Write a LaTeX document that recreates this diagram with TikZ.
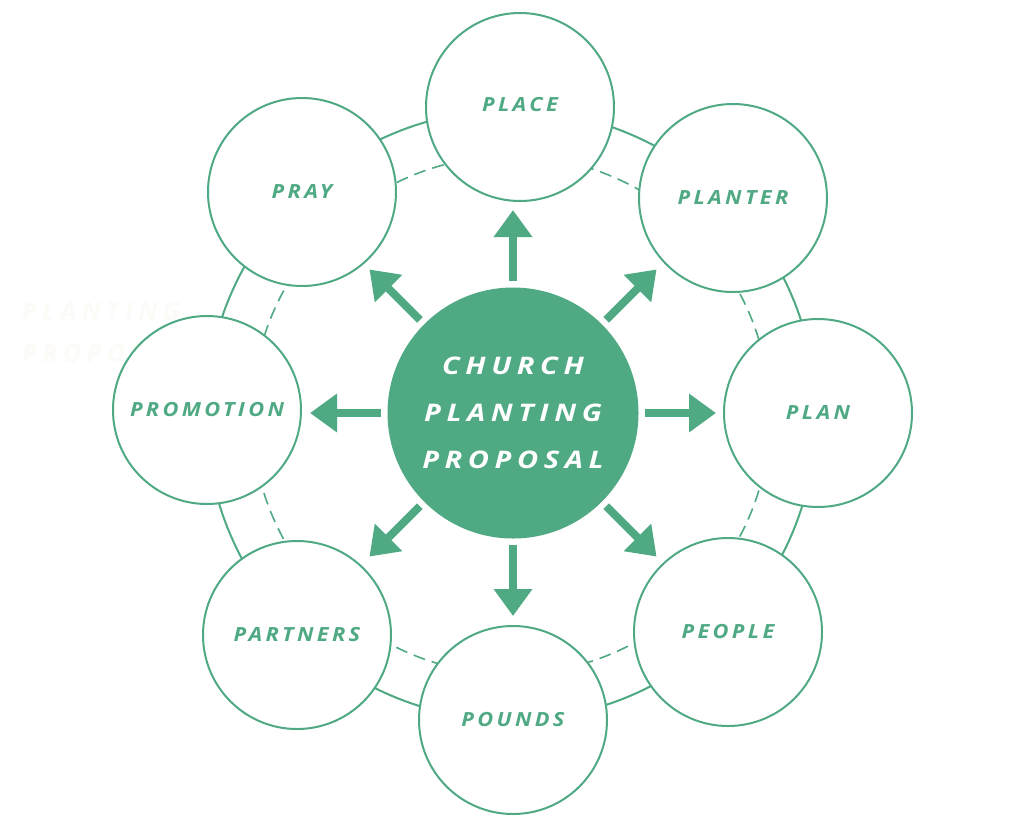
\documentclass[tikz,border=0pt]{standalone}
\usepackage{fontspec}
\newfontfamily\lblfont{Open Sans}[LetterSpace=17,FakeStretch=1.12]
\newfontfamily\ctrfont{Open Sans}[LetterSpace=23,FakeStretch=1.2]
\newfontfamily\ghostfont{Open Sans}[LetterSpace=22]
\usetikzlibrary{arrows.meta,calc}
\definecolor{grn}{RGB}{79,169,131}
\definecolor{ghostcol}{RGB}{252,251,247}
\begin{document}
\begin{tikzpicture}[x=1pt,y=-1pt,
  petal/.style={circle,draw=grn,line width=2pt,fill=white,minimum size=188pt,inner sep=0pt,
    text=grn,font=\lblfont\bfseries\itshape\fontsize{19.5}{22}\selectfont},
  hub/.style={circle,fill=grn,minimum size=251pt,inner sep=0pt,text=white,align=center,
    font=\ctrfont\bfseries\itshape\fontsize{24.2}{47}\selectfont},
  arr/.style={grn,line width=8pt,-{Triangle[width=37pt,length=27pt]}},
  ringsolid/.style={draw=grn,line width=2pt},
  ringdash/.style={draw=grn,line width=1.6pt,dash pattern=on 12pt off 7pt},
  ghosttext/.style={text=ghostcol,align=left,anchor=north west,inner sep=0pt,
    font=\ghostfont\bfseries\itshape\fontsize{25}{42}\selectfont}
  ]
\path[use as bounding box,fill=white] (0,0) rectangle (1024,828);
% faint background text
\node[ghosttext] (ghost) at (22,302) {PLANTING\\PROPOSAL};
% ring band
\coordinate (rc) at (511,415);
\draw[ringsolid] (rc) circle[radius=305pt];
\draw[ringdash] (rc) circle[radius=259pt];
% outer circles
\node[petal] (place) at (520,107) {\raisebox{6pt}{PLACE}};
\node[petal] (planter) at (733,198) {PLANTER};
\node[petal] (plan) at (818,413) {PLAN};
\node[petal] (people) at (728,632) {PEOPLE};
\node[petal] (pounds) at (513,720) {POUNDS};
\node[petal] (partners) at (297,635) {PARTNERS};
\node[petal] (promotion) at (207,410) {PROMOTION};
\node[petal] (pray) at (302,192) {PRAY};
% hub
\node[hub] (hub) at (513,413) {CHURCH\\PLANTING\\PROPOSAL};
% arrows
\foreach \a/\n in {90/N,45/NE,0/E,-45/SE,-90/S,-135/SW,180/W,135/NW}{
  \coordinate (t\n) at ($(hub)+(\a:203pt)$);
  \draw[arr,shorten <=6pt] (hub.\a) -- (t\n);
}
\end{tikzpicture}
\end{document}
